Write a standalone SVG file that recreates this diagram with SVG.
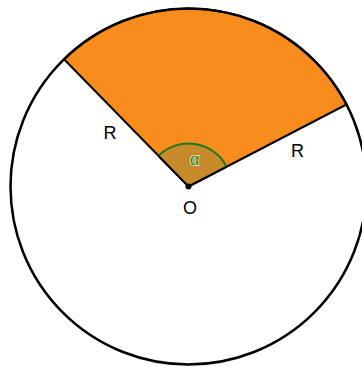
<svg xmlns="http://www.w3.org/2000/svg" width="362" height="367" viewBox="0 0 362 367">
<style>
.lbl{font-family:"Liberation Sans",Arial,sans-serif;font-size:18px;fill:#000;text-anchor:middle}
</style>
<rect width="362" height="367" fill="#fff"/>
<g id="sector">
<path d="M188.5,186.5 L346.5,104.5 A178,178 0 0 0 64,59.3 Z" fill="#f88d1e" stroke="#000" stroke-width="2"/>
</g>
<g id="angle">
<path d="M188.5,186.5 L226.7,166.7 A43,43 0 0 0 158.4,155.8 Z" fill="#c68a2b"/>
<path d="M226.7,166.7 A43,43 0 0 0 158.4,155.8" fill="none" stroke="#1b7a1b" stroke-width="2"/>
<path d="M158.4,155.8 L188.5,186.5 L226.7,166.7" fill="none" stroke="#000" stroke-width="2"/>
<text x="194.5" y="164.5" paint-order="stroke" style="font-family:'Liberation Sans',Arial,sans-serif;font-size:16px;text-anchor:middle;fill:#2a7a1a;stroke:#eef2c8;stroke-width:1.6">α</text>
</g>
<g id="circle">
<circle cx="188.5" cy="186.5" r="178" fill="none" stroke="#000" stroke-width="2.5"/>
</g>
<g id="center">
<circle cx="188.5" cy="186.5" r="3" fill="#000"/>
</g>
<text class="lbl" x="110" y="139">R</text>
<text class="lbl" x="297.5" y="157">R</text>
<text class="lbl" x="190" y="214">O</text>
</svg>
